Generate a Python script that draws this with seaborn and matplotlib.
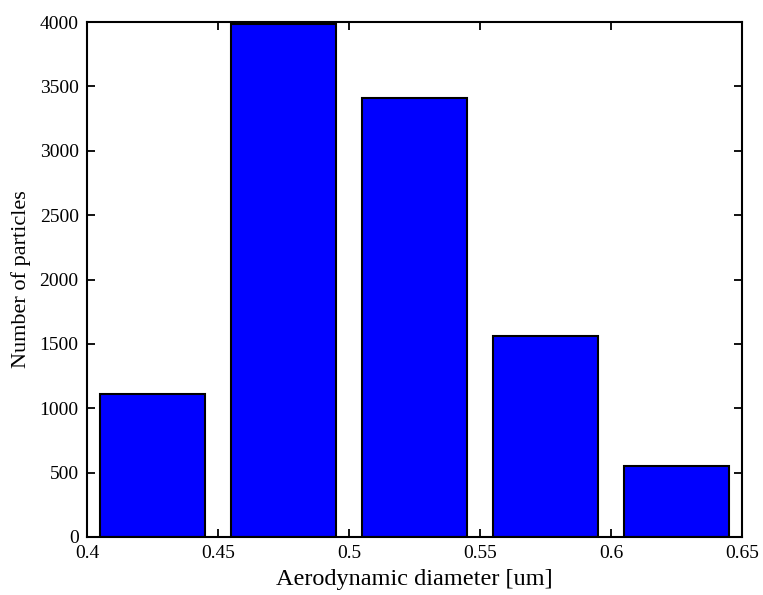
import matplotlib
matplotlib.use("Agg")
import matplotlib.pyplot as plt
import seaborn as sns
import pandas as pd

# Histogram of aerodynamic diameters (bin centres, counts)
diameter = [0.425, 0.475, 0.525, 0.575, 0.625]
counts = [1111, 3984, 3412, 1563, 551]
x_ticks = [0.4, 0.45, 0.5, 0.55, 0.6, 0.65]
y_ticks = [0, 500, 1000, 1500, 2000, 2500, 3000, 3500, 4000]

df = pd.DataFrame({"diameter": diameter, "count": counts})

sns.set_style("ticks")
plt.rcParams["font.family"] = ["Liberation Serif", "DejaVu Serif"]
plt.rcParams["axes.edgecolor"] = "black"
plt.rcParams["xtick.color"] = "black"
plt.rcParams["ytick.color"] = "black"
plt.rcParams["text.color"] = "black"
plt.rcParams["axes.labelcolor"] = "black"

fig = plt.figure(figsize=(7.63, 5.95), dpi=100)
ax = fig.add_axes([0.114, 0.0975, 0.8585, 0.8655])

sns.barplot(data=df, x="diameter", y="count", native_scale=True, width=0.8,
            color="#0000ff", saturation=1, edgecolor="black", linewidth=1.5,
            errorbar=None, ax=ax)

ax.set_xlim(0.4, 0.65)
ax.set_ylim(0, 4000)
ax.set_xticks(x_ticks)
ax.set_xticklabels([f"{t:g}" for t in x_ticks])
ax.set_yticks(y_ticks)
ax.tick_params(direction="in", top=True, right=True, length=6, width=1.3,
               labelsize=14, pad=6)
for s in ax.spines.values():
    s.set_linewidth(1.5)
    s.set_visible(True)

ax.set_xlabel("Aerodynamic diameter [um]", fontsize=17.5, labelpad=5)
ax.set_ylabel("Number of particles", fontsize=16, labelpad=6)

fig.savefig("out.png", dpi=100)
